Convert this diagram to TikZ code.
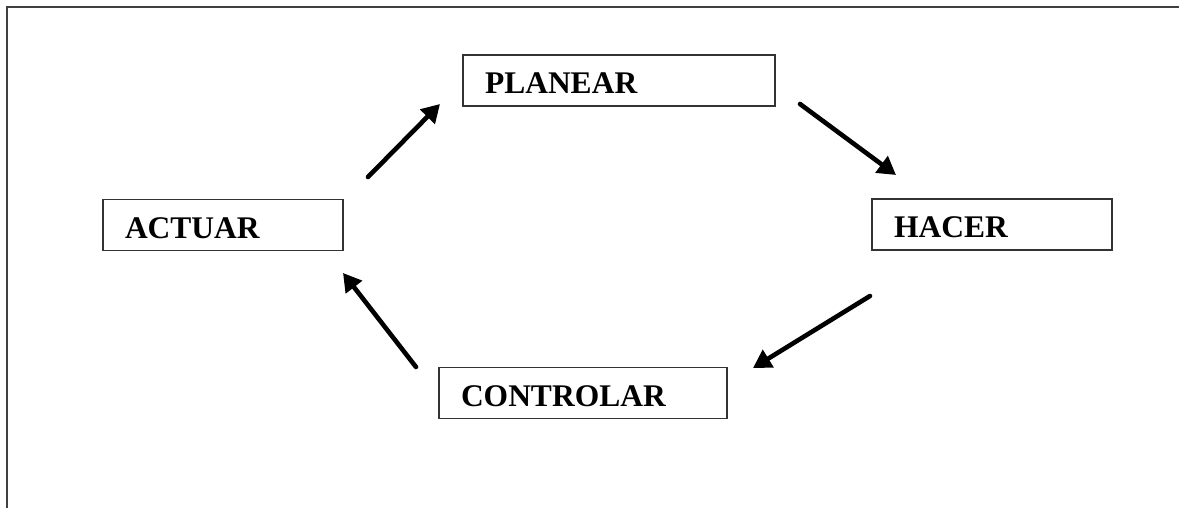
\documentclass[tikz,border=0pt]{standalone}
\usepackage{fontspec}
\setmainfont{Liberation Serif}
\usetikzlibrary{arrows.meta}

\tikzset{
  stage/.style={draw=black!80, line width=0.9pt, rectangle, align=left,
    inner xsep=11pt, minimum height=25.5pt, text height=13.5pt, text depth=0pt,
    font=\fontsize{15.75}{18}\selectfont\bfseries},
  cycle/.style={line width=2.3pt, line cap=round,
    -{Triangle[length=9pt,width=10pt]}}
}

\begin{document}
\begin{tikzpicture}[x=0.5pt,y=0.5pt]
  \useasboundingbox (0,0) rectangle (1179,508);

  % frame, only the left and top edges show
  \draw[black!75, line width=1.4pt] (7,0) -- (7,501) -- (1179,501);

  \node[stage, text width=134pt] (planear)   at (619,427.5) {PLANEAR};
  \node[stage, text width=98pt]  (hacer)     at (992,283.5) {HACER};
  \node[stage, text width=122pt] (controlar) at (583,115)   {CONTROLAR};
  \node[stage, text width=98pt]  (actuar)    at (223,283)   {ACTUAR};

  % arrow ends
  \coordinate (ap) at (368,331);
  \coordinate (pa) at (440,404);
  \coordinate (ph) at (800,404);
  \coordinate (hp) at (896,333);
  \coordinate (hc) at (870,212);
  \coordinate (ch) at (753,140);
  \coordinate (ca) at (416,141);
  \coordinate (ac) at (343,235);

  \draw[cycle] (ap) -- (pa);
  \draw[cycle] (ph) -- (hp);
  \draw[cycle] (hc) -- (ch);
  \draw[cycle] (ca) -- (ac);

\end{tikzpicture}
\end{document}
